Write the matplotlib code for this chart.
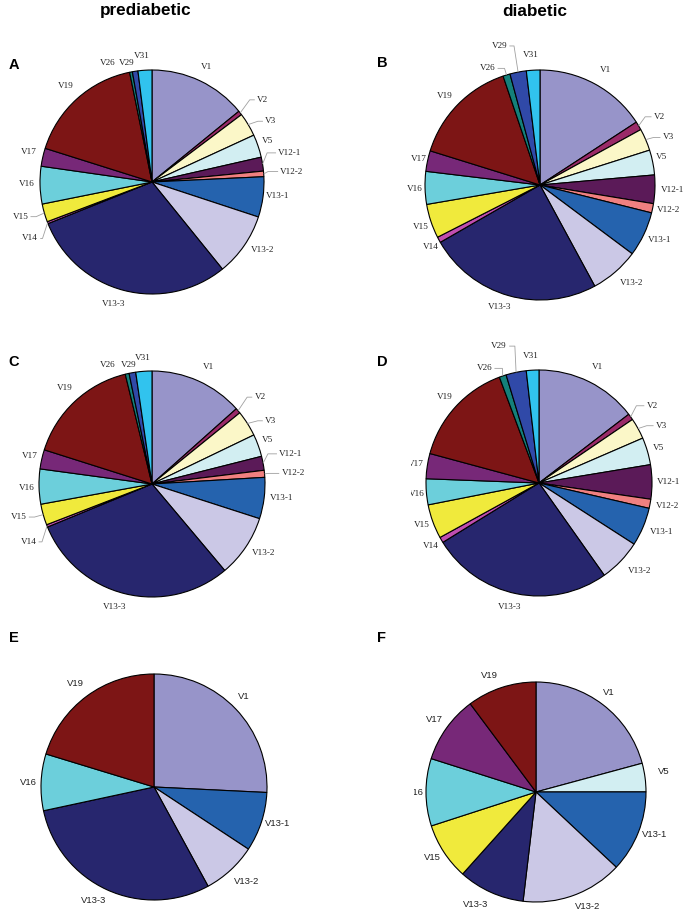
import numpy as np
import matplotlib
matplotlib.use("Agg")
import matplotlib.pyplot as plt
from matplotlib.transforms import Bbox, TransformedBbox

# ---------------- data ----------------
labels_full = ["V1", "V2", "V3", "V5", "V12-1", "V12-2", "V13-1", "V13-2", "V13-3",
               "V14", "V15", "V16", "V17", "V19", "V26", "V29", "V31"]
vals_A = [14.1, 0.6, 3.4, 3.3, 2.0, 0.8, 5.8, 9.1, 29.7, 0.3, 2.6, 5.4, 2.6, 16.9, 0.4, 0.8, 2.0]
vals_B = [15.8, 1.2, 3.1, 3.5, 4.0, 1.3, 6.3, 6.9, 24.6, 0.8, 4.8, 4.6, 2.9, 15.0, 1.0, 2.3, 1.9]
vals_C = [13.4, 0.75, 3.7, 3.2, 2.0, 1.0, 5.9, 8.9, 29.9, 0.35, 3.0, 5.0, 2.75, 16.3, 0.55, 0.95, 2.3]
vals_D = [14.6, 0.9, 3.0, 3.9, 4.9, 1.3, 5.5, 6.1, 26.0, 0.8, 4.9, 3.7, 3.6, 15.1, 1.0, 2.9, 1.8]
labels_E = ["V1", "V13-1", "V13-2", "V13-3", "V16", "V19"]
vals_E = [25.8, 8.5, 7.8, 29.6, 8.1, 20.3]
labels_F = ["V1", "V5", "V13-1", "V13-2", "V13-3", "V15", "V16", "V17", "V19"]
vals_F = [20.8, 4.2, 12.0, 14.9, 9.75, 8.4, 9.9, 9.9, 10.2]

colors = {
    "V1": "#9794c9", "V2": "#9a2a68", "V3": "#fbf7c8", "V5": "#d2eef2",
    "V12-1": "#5b1a58", "V12-2": "#f08080", "V13-1": "#2563ae", "V13-2": "#cbc8e6",
    "V13-3": "#27266e", "V14": "#c04eb0", "V15": "#f0ea3c", "V16": "#6ccfdb",
    "V17": "#772878", "V19": "#7d1515", "V26": "#14807a", "V29": "#3049a8",
    "V31": "#31c3ee",
}

# label placement: label -> (angle offset deg, distance in radii)
lab_A = {"V1": (0, 1.14), "V5": (-0.7, 1.09), "V13-1": (-1.2, 1.13), "V13-2": (-3, 1.16),
         "V13-3": (2.7, 1.14), "V16": (0.7, 1.12), "V17": (0.9, 1.13), "V19": (0, 1.15),
         "V26": (-9.6, 1.13), "V29": (-3.5, 1.09), "V31": (-0.8, 1.13)}
lead_A = {"V2": (-2, 1.14, 0.045), "V3": (1, 1.09, 0.045), "V12-1": (-5, 1.06, 0.08),
          "V12-2": (-1, 1.04, 0.09), "V14": (-6, 1.10, 0.02), "V15": (-0.6, 1.08, 0.05)}
lab_C = {"V1": (1.6, 1.15), "V5": (-1, 1.09), "V13-1": (-1, 1.15), "V13-2": (-2.2, 1.16),
         "V13-3": (2.9, 1.14), "V16": (-0.5, 1.11), "V17": (0.35, 1.11), "V19": (0.65, 1.15),
         "V26": (-7.6, 1.12), "V29": (-1.2, 1.07), "V31": (-0.1, 1.12)}
lead_C = {"V2": (-2, 1.14, 0.045), "V3": (1.5, 1.09, 0.045), "V12-1": (-4, 1.06, 0.08),
          "V12-2": (0, 1.04, 0.09), "V14": (-6, 1.10, 0.03), "V15": (0, 1.08, 0.05)}
lab_B = {"V1": (1.1, 1.15), "V5": (-1.5, 1.08), "V12-1": (0, 1.15), "V12-2": (-0.5, 1.14),
         "V13-1": (-0.6, 1.15), "V13-2": (-2.3, 1.17), "V13-3": (2.2, 1.12), "V14": (-1.1, 1.09),
         "V15": (-0.8, 1.10), "V16": (-0.2, 1.09), "V17": (0.2, 1.08), "V19": (-1.3, 1.13),
         "V31": (-0.6, 1.13)}
lead_B = {"V2": (-2, 1.09, 0.055), "V3": (0.5, 1.07, 0.06), "V26": (0, 1.06, 0.06),
          "V29": (0.4, 1.23, 0.04)}
lab_D = {"V1": (0.5, 1.15), "V5": (0, 1.10), "V12-1": (0, 1.15), "V12-2": (-0.4, 1.16),
         "V13-1": (-0.9, 1.17), "V13-2": (-2.7, 1.18), "V13-3": (2, 1.13), "V14": (0, 1.11),
         "V15": (0, 1.10), "V16": (-0.5, 1.09), "V17": (0, 1.10), "V19": (0.3, 1.13),
         "V31": (-0.5, 1.13)}
lead_D = {"V2": (-2.6, 1.10, 0.07), "V3": (0.8, 1.08, 0.06), "V26": (1, 1.065, 0.07),
          "V29": (1.7, 1.23, 0.05)}
lab_E = {"V1": (-1.5, 1.13), "V13-1": (-1.6, 1.14), "V13-2": (-2, 1.17), "V13-3": (3.5, 1.14),
         "V16": (-0.3, 1.11), "V19": (-0.8, 1.15)}
lab_F = {"V1": (-1, 1.12), "V5": (-1.6, 1.18), "V13-1": (-1.7, 1.15), "V13-2": (-4.1, 1.14),
         "V13-3": (4, 1.16), "V15": (0.8, 1.11), "V16": (0, 1.10), "V17": (0, 1.13),
         "V19": (-3.5, 1.14)}

W, H = 686, 914
fig = plt.figure(figsize=(W / 100, H / 100), dpi=100)
fig.patch.set_facecolor("white")

serif = ["Liberation Serif", "DejaVu Serif"]
sans = ["Liberation Sans", "DejaVu Sans"]


def polar(ang_deg, dist):
    a = np.deg2rad(ang_deg)
    return dist * np.sin(a), dist * np.cos(a)


def draw_panel(cx, cy, r, labels, vals, lab_spec, lead_spec, family, fs, clip_left=None):
    ax = fig.add_axes([(cx - 1.5 * r) / W, (H - cy - 1.5 * r) / H, 3 * r / W, 3 * r / H])
    ax.pie(vals, colors=[colors[l] for l in labels], startangle=90, counterclock=False,
           radius=1.0, wedgeprops=dict(edgecolor="black", linewidth=0.8))
    ax.set_xlim(-1.5, 1.5)
    ax.set_ylim(-1.5, 1.5)
    ax.set_aspect("equal")
    ax.axis("off")
    total = float(np.sum(vals))
    cum = np.cumsum([0] + list(vals))
    clipbox = None
    if clip_left is not None:
        clipbox = TransformedBbox(Bbox([[clip_left / W, 0], [1, 1]]), fig.transFigure)
    texts = []
    for i, lab in enumerate(labels):
        mid = (cum[i] + cum[i + 1]) / 2 / total * 360.0  # clockwise from top
        if lab in lead_spec:
            off, d, hl = lead_spec[lab]
            x0, y0 = polar(mid, 1.0)
            x1, y1 = polar(mid + off, d)
            sgn = 1 if x1 >= 0 else -1
            x2 = x1 + sgn * hl
            ax.plot([x0, x1, x2], [y0, y1, y1], color="#a0a0a0", lw=0.6,
                    solid_capstyle="butt", clip_on=False)
            t = ax.text(x2 + sgn * 0.02, y1, lab, ha="left" if sgn > 0 else "right",
                        va="center", fontsize=fs, family=family, color="#222222")
        else:
            off, d = lab_spec.get(lab, (0, 1.14))
            x, y = polar(mid + off, d)
            t = ax.text(x, y, lab, ha="center", va="center", fontsize=fs,
                        family=family, color="#222222")
        texts.append(t)
    if clipbox is not None:
        for t in texts:
            t.set_clip_box(clipbox)
            t.set_clip_on(True)
    return ax


draw_panel(152, 182, 112, labels_full, vals_A, lab_A, lead_A, serif, 6.6)
draw_panel(540, 185, 115, labels_full, vals_B, lab_B, lead_B, serif, 6.6)
draw_panel(152, 484, 113, labels_full, vals_C, lab_C, lead_C, serif, 6.6)
draw_panel(539, 483, 113, labels_full, vals_D, lab_D, lead_D, serif, 6.6, clip_left=410.5)
draw_panel(154, 787, 113, labels_E, vals_E, lab_E, {}, sans, 6.8)
draw_panel(536, 792, 110, labels_F, vals_F, lab_F, {}, sans, 6.8, clip_left=413.5)

# headers
fig.text(145.5 / W, 1 - 11 / H, "prediabetic", ha="center", va="center",
         fontsize=12.3, fontweight="bold", family=sans)
fig.text(534.7 / W, 1 - 11 / H, "diabetic", ha="center", va="center",
         fontsize=12.3, fontweight="bold", family=sans)

# panel letters
for letter, x, y in [("A", 14, 65), ("B", 382, 63), ("C", 14, 362),
                     ("D", 382, 362), ("E", 14, 638), ("F", 381, 638)]:
    fig.text(x / W, 1 - y / H, letter, ha="center", va="center",
             fontsize=10.5, fontweight="bold", family=sans)

fig.savefig("out.png", dpi=100, facecolor="white")
